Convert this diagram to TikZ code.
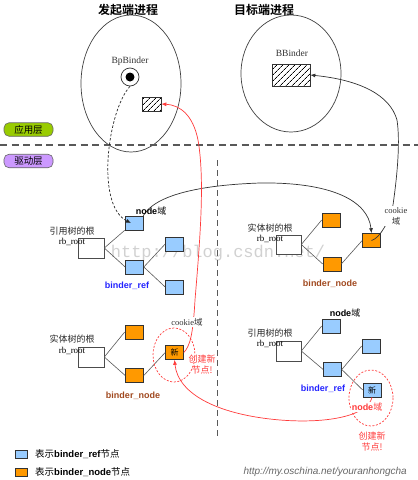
\documentclass[tikz,border=0pt]{standalone}
\usepackage{fontspec}
\setmainfont{Liberation Serif}
\setsansfont{Liberation Sans}
\setmonofont{Liberation Mono}
\newfontfamily\cjk[BoldFont={Noto Sans CJK SC Bold}]{Noto Sans CJK SC}
\usetikzlibrary{arrows.meta,patterns.meta}
\definecolor{refblue}{HTML}{99CCFF}
\definecolor{bnorange}{HTML}{FF9900}
\definecolor{myred}{HTML}{FF3B3B}
\definecolor{refblueT}{HTML}{2222FF}
\definecolor{nodebrown}{HTML}{A0481E}
\definecolor{appgreen}{HTML}{99CC00}
\definecolor{drvpurple}{HTML}{CC99FF}
\tikzset{
  treebox/.style={draw=black!80, line width=0.6pt, minimum width=18pt, minimum height=14pt, inner sep=0pt},
  refn/.style={treebox, fill=refblue},
  bndn/.style={treebox, fill=bnorange},
  rootn/.style={draw=black!70, fill=white, line width=0.6pt, minimum width=26pt, minimum height=20pt, inner sep=0pt},
  tline/.style={draw=black!65, line width=0.6pt},
  cjklbl/.style={font=\cjk\fontsize{9}{10}\selectfont, inner sep=0pt, text=black!85},
  rblbl/.style={font=\fontsize{9}{10}\selectfont, inner sep=0pt},
  reflbl/.style={font=\sffamily\bfseries\fontsize{9}{10}\selectfont, inner sep=0pt, text=refblueT},
  bnlbl/.style={font=\sffamily\bfseries\fontsize{9}{10}\selectfont, inner sep=0pt, text=nodebrown},
  redlbl/.style={font=\cjk\fontsize{9}{10.5}\selectfont, inner sep=0pt, text=myred, align=center},
  procell/.style={draw=black!75, line width=0.7pt},
  hatchbox/.style={draw=black!80, line width=0.6pt, pattern={Lines[angle=45,distance=4pt,line width=0.7pt]}},
  layerbox/.style={draw=black!60, line width=0.6pt, rounded corners=5pt, minimum width=49pt, minimum height=13.5pt, inner sep=0pt, font=\cjk\fontsize{9.5}{10}\selectfont},
  redcirc/.style={draw=myred, line width=0.7pt, dash pattern=on 2pt off 1.6pt},
  conn/.style={line width=0.7pt, -{Latex[length=5pt,width=4pt]}},
  xnew/.style={font=\cjk\fontsize{8}{9}\selectfont}
}
\begin{document}
\begin{tikzpicture}[x=1pt,y=-1pt]
\useasboundingbox (0,0) rectangle (418,480);
% watermark
\node[font=\ttfamily\fontsize{17}{18}\selectfont, text=black!18, inner sep=0pt] (wm) at (218,253) {http://blog.csdn.net/};
% titles
\node[font=\cjk\bfseries\fontsize{12}{13}\selectfont, inner sep=0pt] (t1) at (128,10) {发起端进程};
\node[font=\cjk\bfseries\fontsize{12}{13}\selectfont, inner sep=0pt] (t2) at (264,10) {目标端进程};
% process ellipses
\draw[procell] (131,83.5) ellipse [x radius=50, y radius=68.5];
\draw[procell] (291,73.5) ellipse [x radius=50, y radius=58.5];
\node[font=\fontsize{9.5}{10}\selectfont, inner sep=0pt, text=black!80] (bpt) at (130,61) {BpBinder};
\node[font=\fontsize{9.5}{10}\selectfont, inner sep=0pt, text=black!80] (bbt) at (292,53) {BBinder};
\node[circle, draw=black!80, fill=white, line width=0.7pt, minimum size=18pt, inner sep=0pt] (bp) at (130,77) {};
\node[circle, fill=black, minimum size=9pt, inner sep=0pt] (bpdot) at (130,77) {};
\node[hatchbox, minimum width=19pt, minimum height=14pt, inner sep=0pt] (hb1) at (151.5,104) {};
\node[hatchbox, minimum width=38pt, minimum height=22pt, inner sep=0pt] (hb2) at (291,75) {};
% layer separators
\draw[black!65, line width=1.1pt, dash pattern=on 7pt off 4.5pt] (0,145) -- (418,145);
\draw[black!65, line width=0.9pt, dash pattern=on 6pt off 4pt] (217,160) -- (217,438);
\node[layerbox, fill=appgreen] (app) at (28.5,129.5) {应用层};
\node[layerbox, fill=drvpurple] (drv) at (28.5,161) {驱动层};

% ===== upper left: binder_ref tree =====
\node[rootn] (r1) at (91,248) {};
\node[cjklbl] (r1a) at (72,231) {引用树的根};
\node[rblbl] (r1b) at (72,242) {rb\_root};
\node[refn] (A) at (134,223) {};
\node[refn] (B) at (134.5,267) {};
\node[refn] (C) at (174.5,244) {};
\node[refn] (D) at (174.5,287) {};
\draw[tline] (r1.east) -- (A.south west);
\draw[tline] (r1.east) -- (B.west);
\draw[tline] (B.east) -- (C.west);
\draw[tline] (B.east) -- (D.west);
\node[reflbl] (l1) at (127,286) {binder\_ref};

% ===== upper right: binder_node tree =====
\node[rootn, minimum width=25pt, minimum height=19pt] (r2) at (288.5,244.5) {};
\node[cjklbl] (r2a) at (270,228) {实体树的根};
\node[rblbl] (r2b) at (270,239) {rb\_root};
\node[bndn] (E) at (331,220) {};
\node[bndn] (F) at (332,264) {};
\node[bndn] (G) at (371.5,240.5) {};
\draw[tline] (r2.east) -- (E.west);
\draw[tline] (r2.east) -- (F.west);
\draw[tline] (F.east) -- (G.west);
\node[bnlbl] (l2) at (330,284) {binder\_node};

% ===== lower left: binder_node tree with new node =====
\node[rootn] (r3) at (91,357) {};
\node[cjklbl] (r3a) at (72,339) {实体树的根};
\node[rblbl] (r3b) at (72,351) {rb\_root};
\node[bndn] (H) at (134,332) {};
\node[bndn] (I) at (134.5,375.5) {};
\node[bndn, xnew] (J) at (174.5,352.5) {新};
\draw[tline] (r3.east) -- (H.west);
\draw[tline] (r3.east) -- (I.west);
\draw[tline] (I.east) -- (J.west);
\node[bnlbl] (l3) at (133,396) {binder\_node};
\draw[redcirc] (174,355) ellipse [x radius=21, y radius=27];

% ===== lower right: binder_ref tree with new node =====
\node[rootn, minimum width=25pt] (r4) at (288.5,351) {};
\node[cjklbl] (r4a) at (270,333) {引用树的根};
\node[rblbl] (r4b) at (270,344) {rb\_root};
\node[refn] (K) at (331,326) {};
\node[refn] (L) at (332.5,369.5) {};
\node[refn] (M) at (371,346) {};
\node[refn, xnew] (N) at (372,390) {新};
\draw[tline] (r4.east) -- (K.west);
\draw[tline] (r4.east) -- (L.west);
\draw[tline] (L.east) -- (M.west);
\draw[tline] (L.east) -- (N.west);
\node[reflbl] (l4) at (323,389) {binder\_ref};
\draw[redcirc] (371,398) ellipse [x radius=22, y radius=28];

% ===== connectors =====
\draw[conn, black!85, dash pattern=on 2.5pt off 1.8pt] (bp.south) .. controls (108,110) and (95,205) .. ([xshift=-3pt]A.center);
\draw[conn, black!80] (A.north east) .. controls (155,195) and (200,185) .. (260,183) .. controls (330,182) and (368,200) .. (G.north);
\draw[conn, black!80] (G.center) .. controls (380,238) and (389,222) .. (393,205) .. controls (398,170) and (400,140) .. (397,120) .. controls (390,95) and (360,80) .. (hb2.east);
\draw[conn, myred] (J.east) .. controls (190,346) and (193,335) .. (195,300) .. controls (200,240) and (205,180) .. (198,140) .. controls (193,115) and (180,105) .. (hb1.east);
\draw[conn, myred] (N.south) .. controls (368,415) and (330,424) .. (280,420) .. controls (220,415) and (178,395) .. (J.south);

% labels over connectors
\node[font=\sffamily\bfseries\fontsize{9}{10}\selectfont, inner sep=0.5pt] (nd1) at (151,211) {node{\cjk\mdseries 域}};
\node[font=\sffamily\bfseries\fontsize{9}{10}\selectfont, inner sep=0.5pt] (nd2) at (345,313) {node{\cjk\mdseries 域}};
\node[fill=white, inner sep=1pt, align=center, font=\fontsize{8.5}{11}\selectfont, text=black!80] (ck1) at (396,216) {cookie\\{\cjk 域}};
\node[fill=white, inner sep=1pt, font=\fontsize{8.5}{10}\selectfont, text=black!80] (ck2) at (187,322) {cookie{\cjk 域}};
\node[fill=white, inner sep=0.5pt, font=\sffamily\bfseries\fontsize{9}{10}\selectfont, text=myred] (nd3) at (367,407) {node{\cjk\mdseries 域}};
\node[redlbl] (cx1) at (202,364.5) {创建新\\节点!};
\node[redlbl] (cx2) at (372,441.5) {创建新\\节点!};

% legend
\node[draw=black!80, fill=refblue, line width=0.6pt, minimum width=12pt, minimum height=8pt, inner sep=0pt] (lgb) at (21,454.5) {};
\node[draw=black!80, fill=bnorange, line width=0.6pt, minimum width=12pt, minimum height=8pt, inner sep=0pt] (lgo) at (21,472) {};
\node[anchor=west, inner sep=0pt, font=\fontsize{9.5}{10}\selectfont] (lgbt) at (35,454.5) {{\cjk 表示}{\sffamily\bfseries binder\_ref}{\cjk 节点}};
\node[anchor=west, inner sep=0pt, font=\fontsize{9.5}{10}\selectfont] (lgot) at (35,472) {{\cjk 表示}{\sffamily\bfseries binder\_node}{\cjk 节点}};
\node[anchor=east, inner sep=0pt, font=\sffamily\itshape\fontsize{10}{11}\selectfont, text=black!60] (osc) at (407,472) {http://my.oschina.net/youranhongcha};
\end{tikzpicture}
\end{document}
